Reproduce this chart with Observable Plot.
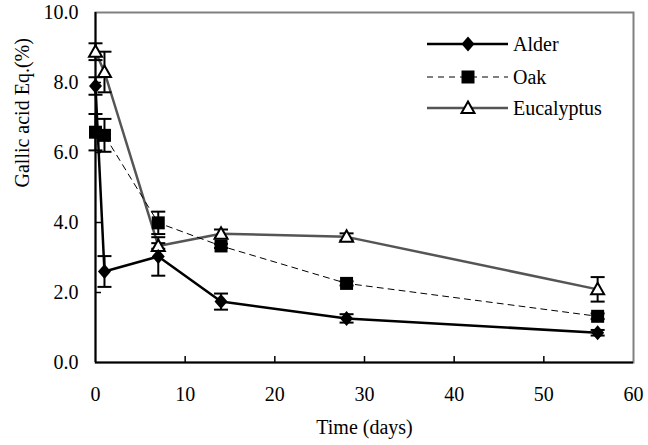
<!DOCTYPE html>
<html>
<head>
<meta charset="utf-8">
<script src="https://cdn.jsdelivr.net/npm/d3@7"></script>
<script src="https://cdn.jsdelivr.net/npm/@observablehq/plot@0.6"></script>
<style>
  html, body { margin: 0; padding: 0; background: white; }
  #wrap { position: relative; width: 648px; height: 445px; font-family: "Liberation Serif", "Times New Roman", serif; }
  #legend { position: absolute; left: 0; top: 0; pointer-events: none; }
  #legend text { font-family: "Liberation Serif", "Times New Roman", serif; font-size: 20px; }
</style>
</head>
<body>
<div id="wrap"></div>
<script>
// ---- data ----
const days = [0, 1, 7, 14, 28, 56];
const seriesNames = ["Alder", "Oak", "Eucalyptus"];
const alder    = [7.90, 2.60, 3.03, 1.74, 1.26, 0.85];
const alderErr = [0.25, 0.44, 0.55, 0.23, 0.12, 0.08];
const oak      = [6.58, 6.49, 3.99, 3.33, 2.26, 1.32];
const oakErr   = [0.52, 0.47, 0.32, 0.06, 0.06, 0.08];
const euc      = [8.88, 8.30, 3.33, 3.68, 3.59, 2.09];
const eucErr   = [0.24, 0.58, 0.08, 0.12, 0.10, 0.35];
const xTicks = [0, 10, 20, 30, 40, 50, 60];
const yTicks = [0, 2, 4, 6, 8, 10];
const xLabel = "Time (days)";
const yLabel = "Gallic acid Eq.(%)";

// ---- symbols ----
const diamondSym = {draw(c) { c.moveTo(0, -7.5); c.lineTo(6.5, 0); c.lineTo(0, 7.5); c.lineTo(-6.5, 0); c.closePath(); }};
const squareSym  = {draw(c) { c.rect(-6.5, -6.5, 13, 13); }};
const triSym     = {draw(c) { c.moveTo(0, -6.5); c.lineTo(6.5, 5); c.lineTo(-6.5, 5); c.closePath(); }};
const capSym     = {draw(c) { c.moveTo(-7, 0); c.lineTo(7, 0); }};

const styles = {
  Alder:      {stroke: "black", strokeWidth: 2.5, dash: null, symbol: diamondSym, fill: "black", mstroke: "black", msw: 0},
  Oak:        {stroke: "black", strokeWidth: 1, dash: "6,5", symbol: squareSym, fill: "black", mstroke: "black", msw: 0},
  Eucalyptus: {stroke: "#555555", strokeWidth: 2.5, dash: null, symbol: triSym, fill: "white", mstroke: "black", msw: 2}
};

const valuesBy = {Alder: alder, Oak: oak, Eucalyptus: euc};
const errBy = {Alder: alderErr, Oak: oakErr, Eucalyptus: eucErr};
const rows = seriesNames.flatMap(s => days.map((d, i) => ({series: s, day: d, v: valuesBy[s][i], e: errBy[s][i]})));

const W = 648, H = 445, mL = 95, mR = 15, mT = 12, mB = 83;
const plotW = W - mL - mR, plotH = H - mT - mB;

const lineMarks = ["Eucalyptus", "Oak", "Alder"].map(s =>
  Plot.line(rows.filter(r => r.series === s), {
    x: "day", y: "v", stroke: styles[s].stroke, strokeWidth: styles[s].strokeWidth,
    strokeDasharray: styles[s].dash
  })
);
const errMarks = [
  Plot.ruleX(rows, {x: "day", y1: r => r.v - r.e, y2: r => r.v + r.e, stroke: "black", strokeWidth: 2}),
  Plot.dot(rows, {x: "day", y: r => r.v - r.e, symbol: capSym, stroke: "black", strokeWidth: 2, fill: "none"}),
  Plot.dot(rows, {x: "day", y: r => r.v + r.e, symbol: capSym, stroke: "black", strokeWidth: 2, fill: "none"})
];
const markerMarks = ["Eucalyptus", "Oak", "Alder"].map(s =>
  Plot.dot(rows.filter(r => r.series === s), {
    x: "day", y: "v", symbol: styles[s].symbol, fill: styles[s].fill,
    stroke: styles[s].mstroke, strokeWidth: styles[s].msw
  })
);

const chart = Plot.plot({
  width: W, height: H,
  marginLeft: mL, marginRight: mR, marginTop: mT, marginBottom: mB,
  style: {fontFamily: "Liberation Serif, Times New Roman, serif", fontSize: "20px", background: "white", color: "black"},
  x: {domain: [xTicks[0], xTicks[xTicks.length - 1]], ticks: xTicks, tickSize: 0, tickPadding: 24, label: null, tickFormat: d => String(d)},
  y: {domain: [yTicks[0], yTicks[yTicks.length - 1]], ticks: yTicks, tickSize: 0, tickPadding: 17, label: null, tickFormat: d3.format(".1f")},
  marks: [
    Plot.frame({stroke: "#808080", strokeWidth: 2}),
    Plot.ruleX([xTicks[0]], {stroke: "black", strokeWidth: 2}),
    Plot.ruleY([yTicks[0]], {stroke: "black", strokeWidth: 2}),
    Plot.tickX(xTicks.slice(1, -1), {x: d => d, insetTop: plotH - 6, stroke: "black", strokeWidth: 1.5}),
    Plot.tickY(yTicks.slice(1, -1), {y: d => d, insetRight: plotW - 6, stroke: "black", strokeWidth: 1.5}),
    ...lineMarks,
    ...errMarks,
    ...markerMarks,
    Plot.text([xLabel], {text: d => d, frameAnchor: "bottom", dy: 71, fontSize: 20, fill: "black"}),
    Plot.text([yLabel], {text: d => d, frameAnchor: "left", dx: -73, rotate: -90, fontSize: 20, fill: "black"})
  ]
});

const wrap = document.getElementById("wrap");
wrap.appendChild(chart);

// ---- legend overlay ----
const leg = d3.select(wrap).append("svg").attr("id", "legend").attr("width", W).attr("height", H);
const legX1 = 427, legX2 = 508, legMid = 468, legText = 513, legY = [44, 77, 108];
seriesNames.forEach((s, i) => {
  const st = styles[s];
  const g = leg.append("g").attr("transform", `translate(0,${legY[i]})`);
  g.append("line").attr("x1", legX1).attr("x2", legX2).attr("y1", 0).attr("y2", 0)
    .attr("stroke", st.stroke).attr("stroke-width", st.strokeWidth)
    .attr("stroke-dasharray", st.dash);
  g.append("path").attr("transform", `translate(${legMid},0)`)
    .attr("d", d3.symbol().type(st.symbol)())
    .attr("fill", st.fill).attr("stroke", st.mstroke).attr("stroke-width", st.msw);
  g.append("text").attr("x", legText).attr("y", 0).attr("dy", "0.35em")
    .attr("fill", "black").text(s);
});
</script>
</body>
</html>
